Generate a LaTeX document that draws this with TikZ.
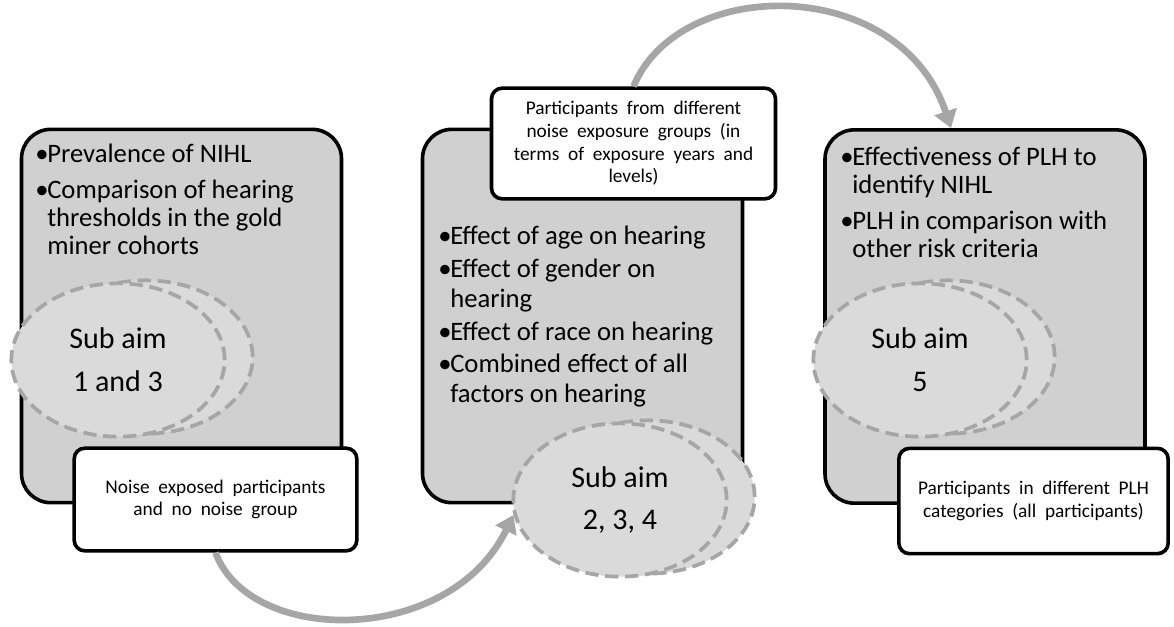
\documentclass[tikz,border=0pt]{standalone}
\usepackage{fontspec}
\setmainfont{Carlito}
\usetikzlibrary{arrows.meta,calc,shapes.geometric}
\definecolor{boxgrey}{HTML}{D0D0D0}
\definecolor{ovalgrey}{HTML}{DADADA}
\definecolor{linegrey}{HTML}{A6A6A6}
\colorlet{ink}{black}
\newcommand{\aimbullet}{\makebox[9pt][l]{\textbullet}}
\newcommand{\aimindent}{\hspace*{9pt}}
\newcommand{\widespaces}{\spaceskip=.45em plus .1em\relax}

\tikzset{
  aimbox/.style={draw=ink,line width=2.7pt,fill=boxgrey,rounded corners=22pt,
    minimum width=240pt,minimum height=280pt},
  groupbox/.style={draw=ink,line width=2.7pt,fill=white,rounded corners=8pt,
    align=center,font=\fontsize{14.5}{17}\selectfont\widespaces},
  aimlist/.style={anchor=north west,align=left,inner sep=0pt,text=ink,
    font=\fontsize{20}{21}\selectfont},
  subaim/.style={ellipse,draw=linegrey,fill=ovalgrey,line width=2.8pt,
    dash pattern=on 10pt off 5pt,minimum width=160pt,minimum height=115pt,
    align=center,font=\fontsize{22.5}{32}\selectfont},
  flow/.style={draw=linegrey,line width=5pt,-{Triangle[length=13pt,width=17pt]}}
}

\begin{document}
\begin{tikzpicture}[x=0.75pt,y=-0.75pt]
  \useasboundingbox (0,0) rectangle (1174,626);
  % the three steps
  \node[aimbox] (nihlaims) at (181.5,316) {};
  \node[aimbox] (factoraims) at (582.5,316) {};
  \node[aimbox] (plhaims) at (985,316.5) {};
  \node[aimlist] (nihllist) at (35,144) {\aimbullet Prevalence of NIHL\\[6pt]
    \aimbullet Comparison of hearing\\ \aimindent thresholds in the gold\\
    \aimindent miner cohorts};
  \node[aimlist,font=\fontsize{20}{22.5}\selectfont] (factorlist) at (438,226)
    {\aimbullet Effect of age on hearing\\[2pt]
    \aimbullet Effect of gender on\\ \aimindent hearing\\[2pt]
    \aimbullet Effect of race on hearing\\[2pt]
    \aimbullet Combined effect of all\\ \aimindent factors on hearing};
  \node[aimlist] (plhlist) at (840,147) {\aimbullet Effectiveness of PLH to\\
    \aimindent identify NIHL\\[6pt]
    \aimbullet PLH in comparison with\\ \aimindent other risk criteria};
  % sub aims
  \foreach \n/\x/\y/\lab in {sa1/118/360/{1 and 3},sa2/620/500/{2, 3, 4},
      sa3/920/360/5}{
    \node[subaim] (\n back) at (\x+28,\y-3) {};
    \node[subaim] (\n) at (\x,\y) {Sub aim\\\lab};}
  % participant groups
  \node[groupbox,minimum width=212pt,minimum height=77pt] (noisegrp)
    at (215.5,499.5) {Noise exposed participants\\and no noise group};
  \node[groupbox,minimum width=213pt,minimum height=83pt] (expgrp)
    at (633.5,143.5) {Participants from different\\noise exposure groups (in\\
    terms of exposure years and\\levels)};
  \node[groupbox,minimum width=202pt,minimum height=79pt] (plhgrp)
    at (1033.5,501) {Participants in different PLH\\categories (all participants)};
  % flow between the steps
  \draw[flow] (noisegrp.south) .. controls (250,646) and (450,646) .. (sa2.188);
  \draw[flow] (expgrp.north) .. controls (680,-25) and (900,-25)
    .. ($(plhaims.north)+(-34,0)$);
\end{tikzpicture}
\end{document}
